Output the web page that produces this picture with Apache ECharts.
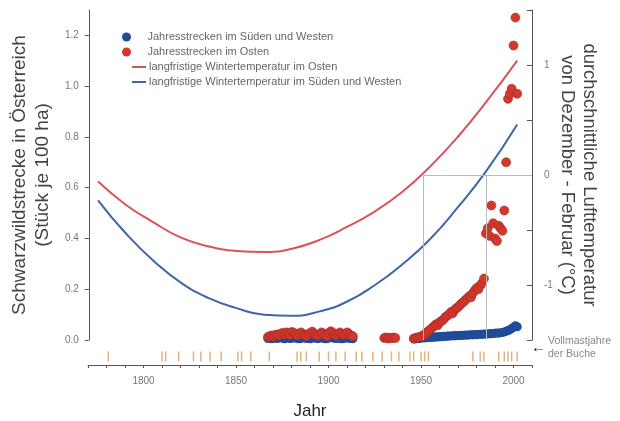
<!DOCTYPE html>
<html>
<head>
<meta charset="utf-8">
<script src="https://cdn.jsdelivr.net/npm/echarts@6/dist/echarts.min.js"></script>
<style>
  html, body { margin: 0; padding: 0; background: #fff; }
  #chart { width: 620px; height: 421px; }
</style>
</head>
<body>
<div id="chart"></div>
<script>
// Jahresstrecken (Stück je 100 ha), ein Wert pro Jahr ab dem Startjahr
var southStart1 = 1867;
var southValues1 = [0.006, 0.008, 0.005, 0.007, 0.009, 0.006, 0.008, 0.010, 0.007, 0.005,
                    0.008, 0.009, 0.006, 0.007, 0.010, 0.008, 0.006, 0.005, 0.007, 0.009,
                    0.008, 0.006, 0.007, 0.005, 0.008, 0.010, 0.007, 0.006, 0.008, 0.009,
                    0.007, 0.005, 0.006, 0.008, 0.010, 0.009, 0.007, 0.006, 0.008, 0.007,
                    0.005, 0.006, 0.008, 0.009, 0.007, 0.006, 0.005];
var southStart2 = 1946;
var southValues2 = [0.004, 0.005, 0.007, 0.006, 0.008, 0.009, 0.008, 0.010, 0.011, 0.010,
                    0.012, 0.011, 0.013, 0.012, 0.014, 0.013, 0.015, 0.014, 0.016, 0.015,
                    0.016, 0.017, 0.016, 0.018, 0.017, 0.018, 0.019, 0.018, 0.020, 0.019,
                    0.020, 0.021, 0.020, 0.022, 0.021, 0.022, 0.023, 0.022, 0.024, 0.023,
                    0.025, 0.024, 0.026, 0.025, 0.027, 0.028, 0.027, 0.029, 0.030, 0.032,
                    0.034, 0.037, 0.040, 0.045, 0.050, 0.056, 0.052];

var eastStart1 = 1867;
var eastValues1 = [0.012, 0.015, 0.018, 0.014, 0.020, 0.022, 0.018, 0.025, 0.028, 0.022,
                   0.030, 0.026, 0.020, 0.032, 0.028, 0.024, 0.018, 0.026, 0.030, 0.022,
                   0.020, 0.016, 0.024, 0.028, 0.033, 0.025, 0.020, 0.018, 0.022, 0.030,
                   0.026, 0.020, 0.015, 0.028, 0.034, 0.030, 0.022, 0.018, 0.025, 0.030,
                   0.024, 0.020, 0.026, 0.030, 0.022, 0.018, 0.015];
var eastStart2 = 1930;
var eastValues2 = [0.008, 0.010, 0.006, 0.009, 0.007, 0.010, 0.008];
var eastStart3 = 1946;
var eastValues3 = [0.006, 0.008, 0.010, 0.012, 0.014, 0.018, 0.022, 0.030, 0.035, 0.042,
                   0.048, 0.055, 0.062, 0.058, 0.070, 0.075, 0.080, 0.090, 0.095, 0.100,
                   0.110, 0.105, 0.118, 0.125, 0.130, 0.138, 0.145, 0.150, 0.158, 0.165,
                   0.172, 0.168, 0.185, 0.195, 0.205, 0.200, 0.215, 0.225, 0.242, 0.420,
                   0.440, 0.410, 0.530, 0.460, 0.400, 0.390, 0.450, 0.440, 0.430, 0.510,
                   0.700, 0.950, 0.970, 0.990, 1.160, 1.270, 0.970];

// langfristige Wintertemperatur (°C)
var trendYears = [1775, 1790, 1805, 1820, 1835, 1850, 1865, 1880, 1895, 1910, 1925, 1940, 1955, 1970, 1985, 2002];
var eastTrend  = [-0.06, -0.27, -0.43, -0.57, -0.65, -0.69, -0.70, -0.67, -0.59, -0.47, -0.33, -0.15, 0.08, 0.35, 0.66, 1.04];
var southTrend = [-0.23, -0.53, -0.78, -0.98, -1.12, -1.21, -1.27, -1.28, -1.24, -1.15, -1.00, -0.81, -0.58, -0.29, 0.03, 0.46];

// Vollmastjahre der Buche
var mastYears = [1781, 1810, 1812, 1819, 1827, 1831, 1836, 1842, 1851, 1853, 1858, 1868,
                 1883, 1885, 1888, 1895, 1900, 1904, 1909, 1915, 1918, 1924, 1929, 1934,
                 1938, 1944, 1946, 1950, 1952, 1954, 1978, 1982, 1984, 1992, 1995, 1997,
                 1999, 2002];

var names = ['Jahresstrecken im Süden und Westen', 'Jahresstrecken im Osten',
             'langfristige Wintertemperatur im Osten', 'langfristige Wintertemperatur im Süden und Westen'];

function byYear(start, values) {
    var out = [];
    for (var i = 0; i < values.length; i++) {
        out.push([start + i, values[i]]);
    }
    return out;
}
function zip(xs, ys) {
    var out = [];
    for (var i = 0; i < xs.length; i++) {
        out.push([xs[i], ys[i]]);
    }
    return out;
}

var myChart = echarts.init(document.getElementById('chart'));
var font = 'Liberation Sans, Arial, sans-serif';

var options = {
    animation: false,
    textStyle: { fontFamily: font },
    legend: [{
        // Punkte
        orient: 'vertical',
        left: 117,
        top: 26,
        itemWidth: 12,
        itemHeight: 9,
        itemGap: 3,
        textStyle: { fontSize: 11, color: '#666', padding: [0, 0, 0, 10], lineHeight: 12 },
        data: [
            { name: names[0], icon: 'circle' },
            { name: names[1], icon: 'circle', itemStyle: { borderWidth: 0 } }
        ]
    }, {
        // Linien
        orient: 'vertical',
        left: 127,
        top: 56,
        itemWidth: 14,
        itemHeight: 2,
        itemGap: 3,
        textStyle: { fontSize: 11, color: '#666', padding: [0, 0, 0, -2], lineHeight: 12 },
        data: [
            { name: names[2], icon: 'rect' },
            { name: names[3], icon: 'rect' }
        ]
    }],
    grid: [
        { left: 88, right: 88, top: 10, height: 330 },
        { left: 88, right: 88, top: 342, height: 24 }
    ],
    xAxis: [{
        gridIndex: 0, type: 'value', min: 1770, max: 2010,
        axisLine: { show: false }, axisTick: { show: false },
        axisLabel: { show: false }, splitLine: { show: false }
    }, {
        gridIndex: 1, type: 'value', min: 1770, max: 2010, interval: 10,
        axisLine: { lineStyle: { color: '#555' } },
        axisTick: { length: 3, lineStyle: { color: '#555' } },
        axisLabel: {
            fontSize: 10, color: '#777', margin: 11,
            formatter: function (v) { return v % 50 === 0 ? String(v) : ''; }
        },
        splitLine: { show: false },
        name: 'Jahr', nameLocation: 'middle', nameGap: 38,
        nameTextStyle: { fontSize: 17, color: '#222' }
    }],
    yAxis: [{
        gridIndex: 0, type: 'value', position: 'left', min: 0, max: 1.3, interval: 0.2,
        axisLine: { show: true, lineStyle: { color: '#555' } },
        axisTick: { show: true, length: 4, lineStyle: { color: '#555' } },
        axisLabel: {
            fontSize: 10, color: '#777', margin: 10, showMaxLabel: false,
            formatter: function (v) { return v.toFixed(1); }
        },
        splitLine: { show: false },
        name: 'Schwarzwildstrecke in Österreich\n(Stück je 100 ha)',
        nameLocation: 'middle', nameGap: 34,
        nameTextStyle: { fontSize: 19, color: '#444', lineHeight: 23 }
    }, {
        gridIndex: 0, type: 'value', position: 'right', min: -1.5, max: 1.5, interval: 0.5,
        axisLine: { show: true, lineStyle: { color: '#555' } },
        axisTick: { show: true, inside: true, length: 5, lineStyle: { color: '#555' } },
        axisLabel: {
            fontSize: 10, color: '#777', margin: 12,
            formatter: function (v) { return Math.abs(v % 1) < 1e-9 ? String(v) : ''; }
        },
        splitLine: { show: false },
        name: 'durchschnittliche Lufttemperatur\nvon Dezember - Februar (°C)',
        nameLocation: 'middle', nameGap: 24, nameRotate: -90, nameMoveOverlap: false,
        nameTextStyle: { fontSize: 18.5, color: '#444', lineHeight: 22 }
    }, {
        gridIndex: 1, type: 'value', min: 0, max: 1, show: false
    }],
    graphic: [{
        type: 'text', left: 531, top: 340,
        style: { text: '\u2190', font: 'bold 15px ' + font, fill: '#222' }
    }, {
        type: 'text', left: 548, top: 335,
        style: { text: 'Vollmastjahre\nder Buche', font: '10.5px ' + font, fill: '#888', lineHeight: 13 }
    }],
    series: [{
        name: names[3], type: 'line', xAxisIndex: 0, yAxisIndex: 1,
        smooth: true, symbol: 'none',
        lineStyle: { color: '#3d67a6', width: 2 },
        itemStyle: { color: '#3d67a6' },
        data: zip(trendYears, southTrend),
        markLine: {
            silent: true, symbol: 'none', label: { show: false },
            lineStyle: { color: '#bbb', width: 1, type: 'solid' },
            data: [
                [{ coord: [1951, 0] }, { coord: [1951, -1.5] }],
                [{ coord: [1985, 0] }, { coord: [1985, -1.5] }],
                [{ coord: [1951, 0] }, { coord: [2010, 0] }]
            ]
        }
    }, {
        name: names[2], type: 'line', xAxisIndex: 0, yAxisIndex: 1,
        smooth: true, symbol: 'none',
        lineStyle: { color: '#d9535a', width: 2 },
        itemStyle: { color: '#d9535a' },
        data: zip(trendYears, eastTrend)
    }, {
        name: names[0], type: 'scatter', xAxisIndex: 0, yAxisIndex: 0,
        symbolSize: 9,
        itemStyle: { color: '#1f4b9a', opacity: 1 },
        data: byYear(southStart1, southValues1).concat(byYear(southStart2, southValues2))
    }, {
        name: names[1], type: 'scatter', xAxisIndex: 0, yAxisIndex: 0,
        symbolSize: 9,
        itemStyle: { color: '#d4372c', borderColor: '#a32a25', borderWidth: 0.6, opacity: 1 },
        data: byYear(eastStart1, eastValues1)
            .concat(byYear(eastStart2, eastValues2))
            .concat(byYear(eastStart3, eastValues3))
    }, {
        name: 'Vollmast', type: 'scatter', xAxisIndex: 1, yAxisIndex: 2,
        symbol: 'rect', symbolSize: [1.5, 10],
        itemStyle: { color: '#d9a060' },
        data: mastYears.map(function (y) { return [y, 0.375]; })
    }]
};
myChart.setOption(options, true);
</script>
</body>
</html>
